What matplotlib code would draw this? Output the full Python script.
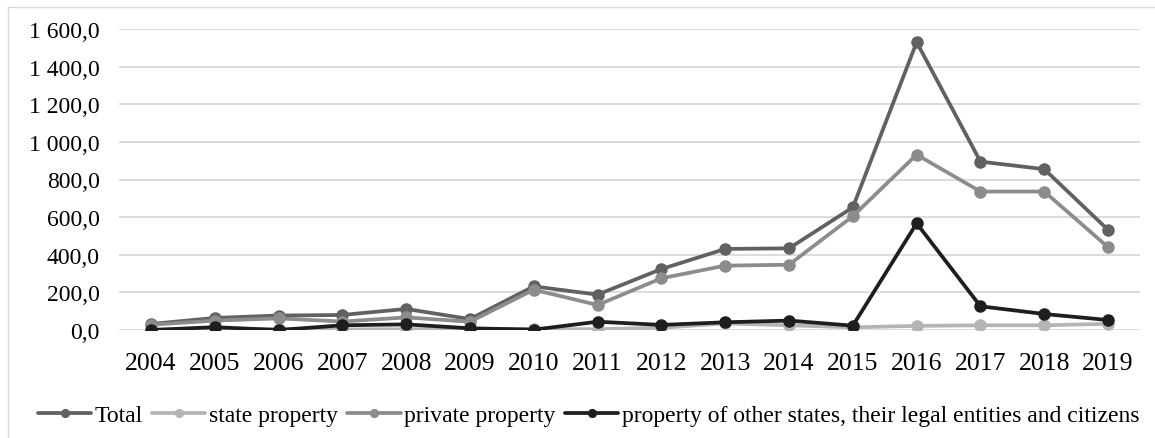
import numpy as np
import matplotlib
matplotlib.use("Agg")
import matplotlib.pyplot as plt
from matplotlib.ticker import FuncFormatter

years = ["2004", "2005", "2006", "2007", "2008", "2009", "2010", "2011",
         "2012", "2013", "2014", "2015", "2016", "2017", "2018", "2019"]
total = [32, 64, 77, 80, 112, 58, 232, 188, 324, 431, 434, 652, 1530, 895, 855, 532]
state = [2, 3, 5, 3, 4, 5, 5, 4, 12, 35, 25, 14, 22, 25, 25, 33]
private = [28, 50, 62, 45, 67, 44, 214, 133, 275, 342, 347, 605, 932, 736, 736, 440]
other = [0, 15, 0, 25, 30, 9, 2, 44, 27, 41, 50, 23, 567, 126, 85, 53]

labels = ["Total", "state property", "private property",
          "property of other states, their legal entities and citizens"]
colors = ["#616161", "#b4b4b4", "#8c8c8c", "#1e1e1e"]

plt.rcParams['font.family'] = ['Liberation Serif', 'DejaVu Serif']

fig = plt.figure(figsize=(11.55, 4.39), dpi=100)
ax = fig.add_axes([119/1155, 1 - 331/439, (1140 - 119)/1155, (331 - 30)/439])

x = np.arange(len(years))
for vals, lab, col in zip([total, state, private, other], labels, colors):
    ax.plot(x, vals, color=col, lw=2.7, marker='o', ms=8, label=lab,
            solid_capstyle='round')

ax.set_xlim(-0.5, len(years) - 0.5)
ax.set_ylim(0, 1600)
ax.set_yticks(np.arange(0, 1601, 200))
ax.yaxis.set_major_formatter(FuncFormatter(
    lambda v, p: "{:,.1f}".format(v).replace(",", " ").replace(".", ",")))
ax.set_xticks(x)
ax.set_xticklabels(years)
ax.tick_params(axis='y', length=0, pad=14, labelsize=17)
ax.tick_params(axis='x', length=0, pad=16, labelsize=18.5)
ax.grid(axis='y', color='#d9d9d9', lw=1.3)
ax.set_axisbelow(True)
for s in ax.spines.values():
    s.set_visible(False)

# outer chart border
fig.add_artist(plt.Line2D([8/1155, 8/1155], [0, 1 - 8/439], color='#d9d9d9',
                          lw=1, transform=fig.transFigure))
fig.add_artist(plt.Line2D([8/1155, 1], [1 - 8/439, 1 - 8/439], color='#d9d9d9',
                          lw=1, transform=fig.transFigure))

fig.legend(loc='center left', bbox_to_anchor=(38/1155, 1 - 416/439), ncol=4,
           frameon=False, fontsize=17, handlelength=2.25, handletextpad=0.15,
           columnspacing=0.4, borderpad=0, borderaxespad=0, markerscale=0.7)

fig.savefig("out.png", dpi=100)
